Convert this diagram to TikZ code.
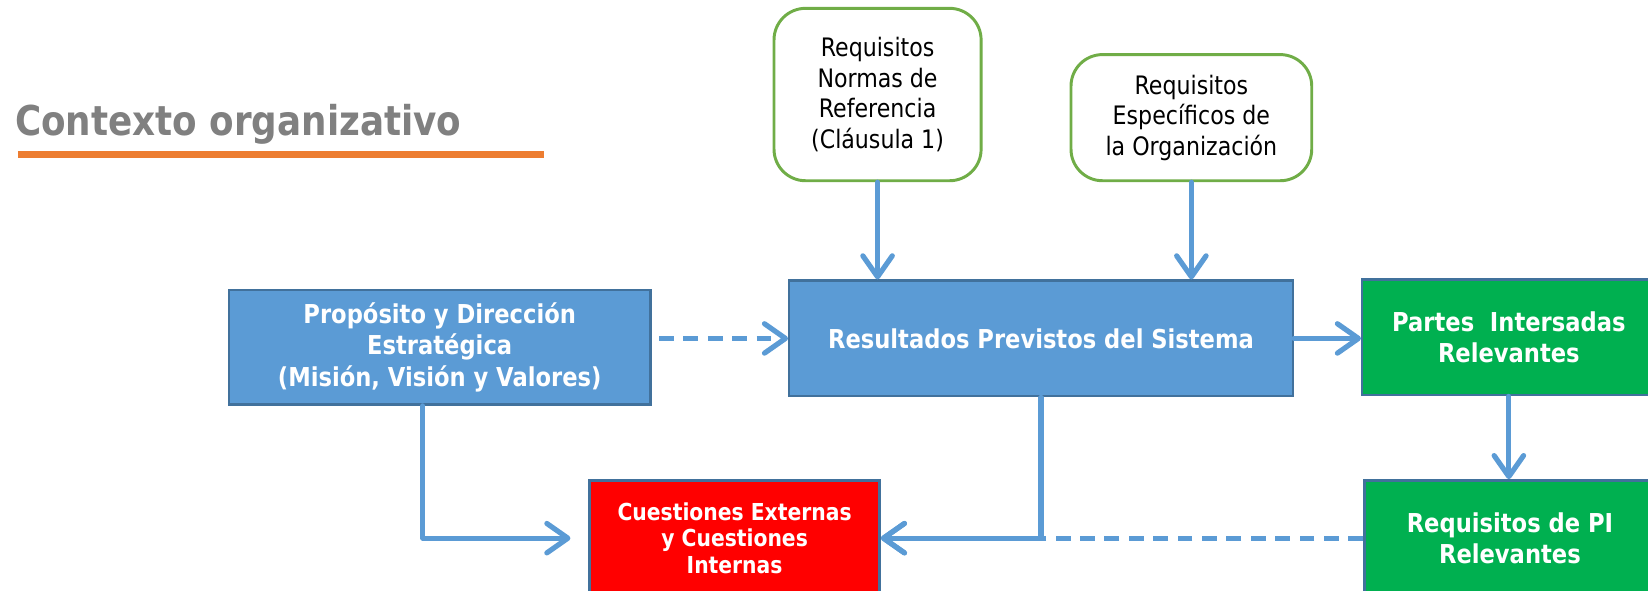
\documentclass[tikz,border=0pt]{standalone}
\usepackage{fontspec}
\setmainfont{DejaVu Sans}[FakeStretch=0.87]
\usepackage{tikz}
\usetikzlibrary{arrows.meta}
\definecolor{azul}{HTML}{5B9BD5}
\definecolor{azulborde}{HTML}{41719C}
\definecolor{verde}{HTML}{00B050}
\definecolor{verdeborde}{HTML}{70AD47}
\definecolor{rojo}{HTML}{FF0000}
\definecolor{gris}{HTML}{808080}
\definecolor{naranja}{HTML}{ED7D31}
\tikzstyle{requisito} = [rectangle, rounded corners=0.75cm, draw=verdeborde, line width=2pt, fill=white, text centered, align=center, font=\fontsize{17.2}{20.6}\selectfont]
\tikzstyle{proceso} = [rectangle, minimum height=2.75cm, draw=azulborde, line width=1.6pt, fill=azul, text=white, align=center, font=\fontsize{17.6}{21}\selectfont\bfseries]
\tikzstyle{partes} = [proceso, fill=verde]
\tikzstyle{cuestion} = [proceso, fill=rojo, font=\fontsize{15.8}{17.8}\selectfont\bfseries]
\tikzstyle{arrow} = [line width=3.5pt, draw=azul, line cap=round, line join=round, -{Straight Barb[length=0.5cm,width=0.7cm,round]}]
\tikzstyle{dasharrow} = [arrow, line cap=butt, dash pattern=on 10pt off 6.5pt]

\begin{document}
\begin{tikzpicture}[x=0.025cm, y=-0.025cm, node distance=5cm]
        \useasboundingbox (0,0) rectangle (1568,562);
        \clip (0,0) rectangle (1568,562);

        \node (titulo) [anchor=base west, inner sep=0pt, text=gris, font=\fontsize{27.8}{33}\selectfont\bfseries] at (14,129) {Contexto organizativo};
        \draw [naranja, line width=4.5pt] (17,147) -- (518,147);

        \node (resultados) [proceso, minimum width=11.975cm] at (990.5,322) {Resultados Previstos del Sistema};
        \node (proposito) [proceso, minimum width=10.025cm, minimum height=2.725cm, left of=resultados, xshift=-9.3cm, yshift=-0.2125cm] {Propósito y Dirección\\Estratégica\\(Misión, Visión y Valores)};
        \node (norma) [requisito, minimum width=4.925cm, minimum height=4.1cm, above of=resultados, xshift=-3.8875cm, yshift=0.8cm] {Requisitos\\Normas de\\Referencia\\(Cláusula 1)};
        \node (especificos) [requisito, minimum width=5.725cm, minimum height=3cm, above of=resultados, xshift=3.575cm, yshift=0.25cm] {Requisitos\\Específicos de\\la Organización};
        \node (partes) [partes, minimum width=6.975cm, right of=resultados, xshift=6.125cm, yshift=0.025cm] {Partes\ \ Intersadas\\Relevantes};
        \node (requisitosPI) [partes, minimum width=6.925cm, below of=partes, xshift=0.025cm, yshift=0.225cm] {Requisitos de PI\\Relevantes};
        \node (cuestiones) [cuestion, minimum width=6.9cm, below of=resultados, xshift=-7.2875cm, yshift=0.25cm] {Cuestiones Externas\\y Cuestiones\\Internas};

        \draw [arrow] (norma.south) -- (norma.south |- resultados.north);
        \draw [arrow] (especificos.south) -- (especificos.south |- resultados.north);
        \draw [dasharrow, shorten <=0.175cm] (proposito.east |- resultados.west) -- (resultados.west);
        \draw [arrow] (resultados.east) -- (partes.west |- resultados.east);
        \draw [arrow] (partes.south) -- (partes.south |- requisitosPI.north);
        \draw [dasharrow] (requisitosPI.west) -- (cuestiones.east);
        \draw [arrow] (resultados.south) |- (cuestiones.east);
        \draw [arrow, shorten >=0.425cm] ([xshift=-0.4cm]proposito.south) |- (cuestiones.west);

      \end{tikzpicture}
\end{document}
